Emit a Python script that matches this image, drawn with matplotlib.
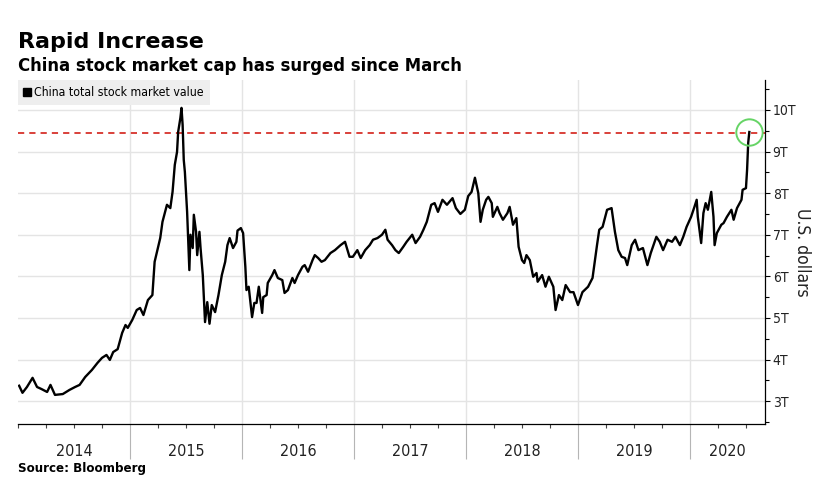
import matplotlib
matplotlib.use("Agg")
import matplotlib.pyplot as plt
import matplotlib.transforms as mtransforms
from matplotlib.lines import Line2D
from matplotlib.ticker import FixedLocator, MultipleLocator, FuncFormatter
from matplotlib import font_manager
from matplotlib.font_manager import FontProperties

# ---- data (decimal year, trillions of US dollars) ----
dates = [
    2014.01, 2014.04, 2014.08, 2014.13, 2014.17, 2014.21, 2014.26, 2014.29, 2014.33, 2014.40,
    2014.46, 2014.51, 2014.55, 2014.60, 2014.66, 2014.71, 2014.75, 2014.79, 2014.82, 2014.85,
    2014.89, 2014.93, 2014.96, 2014.98, 2015.02, 2015.06, 2015.09, 2015.12, 2015.16, 2015.20,
    2015.22, 2015.27, 2015.29, 2015.33, 2015.36, 2015.38, 2015.40, 2015.42, 2015.43, 2015.45,
    2015.46, 2015.47, 2015.48, 2015.49, 2015.51, 2015.52, 2015.53, 2015.54, 2015.56, 2015.57,
    2015.59, 2015.60, 2015.62, 2015.63, 2015.65, 2015.66, 2015.67, 2015.69, 2015.71, 2015.73,
    2015.76, 2015.79, 2015.82, 2015.85, 2015.87, 2015.89, 2015.92, 2015.95, 2015.96, 2015.99,
    2016.01, 2016.03, 2016.04, 2016.06, 2016.09, 2016.11, 2016.13, 2016.15, 2016.18, 2016.19,
    2016.22, 2016.23, 2016.27, 2016.29, 2016.32, 2016.36, 2016.38, 2016.41, 2016.45, 2016.47,
    2016.50, 2016.54, 2016.56, 2016.59, 2016.63, 2016.65, 2016.68, 2016.71, 2016.74, 2016.79,
    2016.83, 2016.88, 2016.92, 2016.96, 2016.99, 2017.03, 2017.06, 2017.10, 2017.14, 2017.17,
    2017.21, 2017.25, 2017.28, 2017.30, 2017.34, 2017.37, 2017.40, 2017.44, 2017.47, 2017.52,
    2017.55, 2017.59, 2017.62, 2017.65, 2017.69, 2017.72, 2017.75, 2017.79, 2017.83, 2017.88,
    2017.91, 2017.95, 2017.99, 2018.02, 2018.05, 2018.08, 2018.11, 2018.13, 2018.15, 2018.18,
    2018.20, 2018.23, 2018.24, 2018.28, 2018.30, 2018.33, 2018.37, 2018.39, 2018.42, 2018.45,
    2018.47, 2018.50, 2018.52, 2018.54, 2018.57, 2018.60, 2018.63, 2018.64, 2018.68, 2018.71,
    2018.74, 2018.78, 2018.80, 2018.83, 2018.86, 2018.89, 2018.93, 2018.96, 2019.00, 2019.04,
    2019.09, 2019.13, 2019.17, 2019.19, 2019.22, 2019.26, 2019.30, 2019.33, 2019.36, 2019.39,
    2019.42, 2019.44, 2019.48, 2019.51, 2019.54, 2019.58, 2019.62, 2019.65, 2019.70, 2019.73,
    2019.76, 2019.80, 2019.84, 2019.87, 2019.91, 2019.94, 2019.97, 2020.01, 2020.04, 2020.06,
    2020.07, 2020.10, 2020.12, 2020.14, 2020.16, 2020.19, 2020.21, 2020.22, 2020.24, 2020.28,
    2020.30, 2020.33, 2020.37, 2020.39, 2020.42, 2020.46, 2020.47, 2020.50, 2020.51, 2020.52,
    2020.53,
]
market_value = [
    3.37, 3.20, 3.34, 3.56, 3.34, 3.29, 3.22, 3.39, 3.15, 3.17,
    3.27, 3.34, 3.39, 3.58, 3.75, 3.92, 4.04, 4.11, 3.99, 4.18,
    4.25, 4.64, 4.83, 4.76, 4.95, 5.19, 5.24, 5.07, 5.43, 5.55,
    6.35, 6.92, 7.31, 7.72, 7.64, 8.03, 8.68, 8.99, 9.47, 9.81,
    10.05, 9.64, 8.80, 8.51, 7.55, 6.83, 6.15, 7.00, 6.68, 7.48,
    7.07, 6.51, 7.07, 6.68, 6.03, 5.48, 4.90, 5.38, 4.86, 5.31,
    5.14, 5.55, 6.03, 6.35, 6.75, 6.92, 6.68, 6.83, 7.10, 7.16,
    7.04, 6.23, 5.67, 5.75, 5.02, 5.36, 5.36, 5.75, 5.12, 5.50,
    5.55, 5.84, 6.03, 6.15, 5.96, 5.91, 5.60, 5.67, 5.96, 5.84,
    6.03, 6.23, 6.27, 6.11, 6.39, 6.51, 6.44, 6.35, 6.39, 6.56,
    6.63, 6.75, 6.83, 6.47, 6.47, 6.63, 6.44, 6.63, 6.75, 6.88,
    6.92, 7.00, 7.12, 6.88, 6.75, 6.63, 6.56, 6.71, 6.83, 7.00,
    6.80, 6.95, 7.12, 7.31, 7.72, 7.76, 7.55, 7.84, 7.72, 7.88,
    7.64, 7.50, 7.60, 7.93, 8.03, 8.37, 8.00, 7.31, 7.60, 7.84,
    7.91, 7.76, 7.43, 7.67, 7.52, 7.36, 7.52, 7.67, 7.24, 7.40,
    6.71, 6.39, 6.32, 6.51, 6.39, 5.99, 6.08, 5.87, 6.03, 5.75,
    5.99, 5.75, 5.19, 5.55, 5.43, 5.79, 5.62, 5.62, 5.31, 5.62,
    5.75, 5.96, 6.75, 7.12, 7.19, 7.60, 7.64, 7.07, 6.63, 6.47,
    6.44, 6.27, 6.75, 6.88, 6.63, 6.68, 6.27, 6.56, 6.95, 6.83,
    6.63, 6.88, 6.83, 6.95, 6.75, 6.95, 7.19, 7.43, 7.67, 7.84,
    7.43, 6.80, 7.52, 7.76, 7.60, 8.03, 7.43, 6.75, 7.04, 7.24,
    7.28, 7.43, 7.60, 7.36, 7.64, 7.84, 8.08, 8.12, 8.56, 9.21,
    9.47,
]
current_level = 9.45
year_labels = ["2014", "2015", "2016", "2017", "2018", "2019", "2020"]
year_label_pos = [2014.5, 2015.5, 2016.5, 2017.5, 2018.5, 2019.5, 2020.335]
year_bounds = [2015, 2016, 2017, 2018, 2019, 2020]
x_range = (2014.0, 2020.67)
y_range = (2.45, 10.72)

title = "Rapid Increase"
subtitle = "China stock market cap has surged since March"
series_name = "China total stock market value"
y_title = "U.S. dollars"
source = "Source: Bloomberg"


# ---- pick a narrow font if one is installed ----
def pick_narrow():
    best = None
    for f in font_manager.fontManager.ttflist:
        nm = f.name.lower()
        cond = ("narrow" in nm or "condensed" in nm or
                f.stretch in ("condensed", "semi-condensed"))
        if cond and f.weight in (400, "normal", "regular", "book") and f.style == "normal":
            if best is None or "liberation" in nm:
                best = f
    if best is not None:
        return FontProperties(fname=best.fname)
    return FontProperties(family=["Lato", "DejaVu Sans"])


narrow_fp = pick_narrow()


def fp(size):
    p = narrow_fp.copy()
    p.set_size(size)
    return p


W, H = 827, 491
fig = plt.figure(figsize=(W / 100, H / 100), dpi=100)
fig.patch.set_facecolor("white")
ax = fig.add_axes([18 / W, 1 - 424 / H, (765 - 18) / W, (424 - 80) / H])

ax.plot(dates, market_value, color="black", lw=1.7, zorder=3)
ax.axhline(current_level, color="#d9403a", lw=1.4, ls=(0, (3.2, 2.6)), zorder=2)
ax.plot(dates[-1], market_value[-1], marker="o", ms=19, mfc="none",
        mec="#66d466", mew=1.4, zorder=4, clip_on=False)

ax.set_xlim(*x_range)
ax.set_ylim(*y_range)

for s in ("left", "top"):
    ax.spines[s].set_visible(False)
ax.spines["right"].set_color("black")
ax.spines["bottom"].set_color("black")
ax.spines["right"].set_linewidth(0.9)
ax.spines["bottom"].set_linewidth(0.9)

# y axis on right
ax.yaxis.tick_right()
ax.yaxis.set_major_locator(MultipleLocator(1))
ax.yaxis.set_minor_locator(MultipleLocator(0.5))
ax.yaxis.set_major_formatter(FuncFormatter(lambda v, p: f"{int(round(v))}T"))
ax.tick_params(axis="y", which="major", length=3.5, width=0.8, pad=2, colors="black")
ax.tick_params(axis="y", which="minor", length=3, width=0.8)
for lab in ax.get_yticklabels():
    lab.set_fontproperties(fp(10))
    lab.set_color("#222222")

# x axis: separators at year bounds, minor ticks quarterly
ax.xaxis.set_major_locator(FixedLocator(year_bounds))
ax.xaxis.set_minor_locator(MultipleLocator(0.25))
ax.xaxis.set_major_formatter(FuncFormatter(lambda v, p: ""))
ax.tick_params(axis="x", which="major", length=25, width=0.8, color="#b5b5b5")
ax.tick_params(axis="x", which="minor", length=3, width=0.8, color="#444444")

ax.grid(axis="y", which="major", color="#e4e4e4", lw=1.0, zorder=0)
ax.grid(axis="x", which="major", color="#e4e4e4", lw=1.0, zorder=0)
ax.set_axisbelow(True)

trans = mtransforms.blended_transform_factory(ax.transData, ax.transAxes)
for pos, lab in zip(year_label_pos, year_labels):
    ax.text(pos, -27 / 344, lab, transform=trans, ha="center", va="center",
            fontproperties=fp(11.5), color="#222222")

# legend
handle = Line2D([], [], marker="s", color="black", ls="none", ms=6)
leg = ax.legend([handle], [series_name], loc="upper left", bbox_to_anchor=(0, 1),
                borderaxespad=0, frameon=True, fancybox=False, framealpha=1,
                facecolor="#eeeeee", edgecolor="none", handlelength=0.5,
                handletextpad=0.3, borderpad=0.5, prop=fp(8.8))

fig.text(18 / W, 1 - 48 / H, title, fontsize=16, fontweight="bold", va="baseline",
         ha="left", fontfamily="DejaVu Sans")
fig.text(18 / W, 1 - 71 / H, subtitle, fontsize=11.9, fontweight="bold", va="baseline",
         ha="left", fontfamily="DejaVu Sans")
fig.text(18 / W, 1 - 472 / H, source, fontsize=8.6, fontweight="bold", va="baseline",
         ha="left", fontfamily="DejaVu Sans")
fig.text(802 / W, 1 - 252 / H, y_title, rotation=270, va="center",
         ha="center", fontproperties=fp(12.5), color="#222222")

fig.savefig("out.png", dpi=100, facecolor="white")
